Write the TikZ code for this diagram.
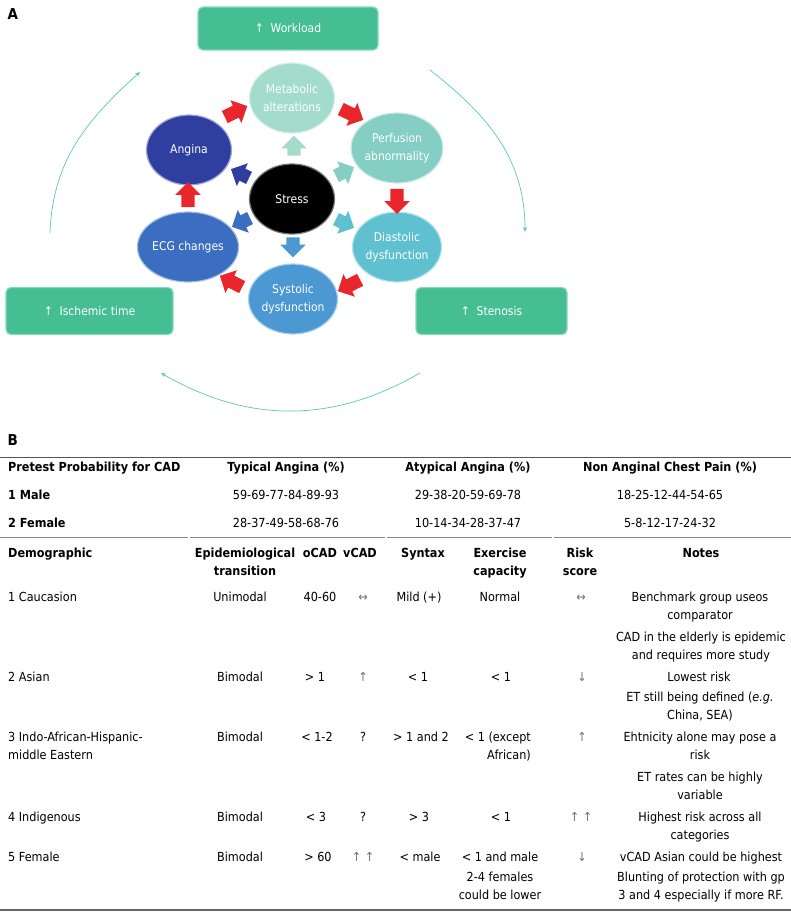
\documentclass[tikz,border=0pt]{standalone}
\usepackage{fontspec}
\setmainfont{DejaVu Sans}[FakeStretch=0.9]
\usetikzlibrary{shapes.geometric,shapes.arrows,arrows.meta,positioning}

\definecolor{boxgreen}{HTML}{45BE93}
\definecolor{boxedge}{HTML}{86D9BC}
\definecolor{arcteal}{HTML}{5CC6B6}
\definecolor{hotred}{HTML}{E8262B}
\definecolor{metab}{HTML}{A3DCCB}
\definecolor{perf}{HTML}{84CEC4}
\definecolor{diast}{HTML}{5FC1D0}
\definecolor{syst}{HTML}{4C98D2}
\definecolor{ecgblue}{HTML}{3B6DC0}
\definecolor{angblue}{HTML}{2F3FA0}
\definecolor{rulegray}{HTML}{555555}

\tikzset{
  cyc/.style={ellipse, fill=#1, draw=white!55!#1, line width=1.2pt,
    minimum width=85, minimum height=70, inner sep=0pt, align=center,
    text=white, font=\fontsize{12}{18}\selectfont},
  stage/.style={rectangle, rounded corners=5pt, fill=boxgreen, draw=boxedge,
    line width=1.2pt, text=white, font=\fontsize{12}{15}\selectfont},
  blk/.style={single arrow, fill=#1, draw=none, inner sep=6.5pt,
    single arrow head extend=6pt, minimum height=25},
  cyclearc/.style={draw=arcteal, line width=0.7pt, -{Stealth[length=5pt,width=4pt]}},
  cell/.style={anchor=base, inner sep=0pt, align=center,
    font=\fontsize{12.5}{18}\selectfont},
  hd/.style={cell, font=\fontsize{12.5}{18}\selectfont\bfseries},
  sym/.style={cell, text=black!55},
  tabrule/.style={draw=rulegray, line width=0.9pt}
}

\begin{document}
\begin{tikzpicture}[x=1pt, y=1pt]
  \useasboundingbox (0,0) rectangle (791,-913);

  % panel A
  \node [font=\fontsize{15}{15}\selectfont\bfseries, anchor=west] (labA) at (4,-14) {A};

  \node [cyc=black, draw=black!55] (str) at (292,-199) {Stress};
  \node [cyc=metab]   (met) at (292,-98)  {Metabolic\\alterations};
  \node [cyc=perf]    (per) at (397,-148) {Perfusion\\abnormality};
  \node [cyc=diast]   (dia) at (397,-247) {Diastolic\\dysfunction};
  \node [cyc=syst]    (sys) at (293,-299) {Systolic\\dysfunction};
  \node [cyc=ecgblue] (ecg) at (188,-247) {ECG changes};
  \node [cyc=angblue] (ang) at (189,-150) {Angina};

  % red arrows round the ring
  \node [blk=hotred, rotate=26]  (r1) at (233,-113) {};
  \node [blk=hotred, rotate=-26] (r2) at (349,-113) {};
  \node [blk=hotred, rotate=-90] (r3) at (397,-198) {};
  \node [blk=hotred, rotate=207] (r4) at (352,-284) {};
  \node [blk=hotred, rotate=153] (r5) at (234,-283) {};
  \node [blk=hotred, rotate=90]  (r6) at (188,-198) {};

  % arrows out of stress
  \node [blk=metab,   rotate=90,  minimum height=19] (s1) at (294,-149) {};
  \node [blk=perf,    rotate=26,  minimum height=19] (s2) at (342,-173) {};
  \node [blk=diast,   rotate=-26, minimum height=19] (s3) at (342,-222) {};
  \node [blk=syst,    rotate=-90, minimum height=19] (s4) at (293,-244) {};
  \node [blk=ecgblue, rotate=206, minimum height=19] (s5) at (244,-221) {};
  \node [blk=angblue, rotate=154, minimum height=19] (s6) at (243,-175) {};

  \node [stage, minimum width=180, minimum height=43] (work)  at (288,-28.5) {↑\ \ Workload};
  \node [stage, minimum width=167, minimum height=47] (isch)  at (89.5,-311) {↑\ \ Ischemic time};
  \node [stage, minimum width=151, minimum height=47] (sten)  at (491.5,-311) {↑\ \ Stenosis};

  \coordinate (la) at (50,-233);
  \coordinate (lb) at (140,-72);
  \coordinate (ra) at (430,-70);
  \coordinate (rb) at (525,-232);
  \coordinate (ba) at (420,-373);
  \coordinate (bb) at (161,-373);
  \draw [cyclearc] (la) to [out=88, in=222] (lb);
  \draw [cyclearc] (ra) to [out=-38, in=90] (rb);
  \draw [cyclearc] (ba) to [out=-150, in=-30] (bb);

  % panel B
  \node [font=\fontsize{15}{15}\selectfont\bfseries, anchor=west] (labB) at (4,-440) {B};

  \draw [tabrule] (0,-457) -- (791,-457);
  \node [hd, anchor=base west] (pp) at (8,-471)   {Pretest Probability for CAD};
  \node [hd] (ta) at (286,-471) {Typical Angina (\%)};
  \node [hd] (aa) at (468,-471) {Atypical Angina (\%)};
  \node [hd] (na) at (670,-471) {Non Anginal Chest Pain (\%)};
  \node [hd, anchor=base west] (male) at (8,-499) {1 Male};
  \node [cell] (mta) at (286,-499) {59-69-77-84-89-93};
  \node [cell] (maa) at (468,-499) {29-38-20-59-69-78};
  \node [cell] (mna) at (670,-499) {18-25-12-44-54-65};
  \node [hd, anchor=base west] (fem) at (8,-527) {2 Female};
  \node [cell] (fta) at (286,-527) {28-37-49-58-68-76};
  \node [cell] (faa) at (468,-527) {10-14-34-28-37-47};
  \node [cell] (fna) at (670,-527) {5-8-12-17-24-32};
  \draw [tabrule, draw=black!45] (0,-537) -- (188,-537);
  \draw [tabrule, draw=black!45] (190,-537) -- (385,-537);
  \draw [tabrule, draw=black!45] (387,-537) -- (552,-537);
  \draw [tabrule, draw=black!45] (554,-537) -- (791,-537);

  % two-line cells sit on the baseline of their last line
  \node [hd, anchor=base west] (hdem) at (8,-557) {Demographic};
  \node [hd] (hepi) at (245,-575) {Epidemiological\\transition};
  \node [hd] (hoc)  at (320,-557) {oCAD};
  \node [hd] (hvc)  at (360,-557) {vCAD};
  \node [hd] (hsyn) at (423,-557) {Syntax};
  \node [hd] (hex)  at (500,-575) {Exercise\\capacity};
  \node [hd] (hrs)  at (580,-575) {Risk\\score};
  \node [hd] (hnot) at (701,-557) {Notes};

  % rows
  \node [cell, anchor=base west] (d1) at (8,-601) {1 Caucasion};
  \node [cell] (e1) at (240,-601) {Unimodal};
  \node [cell] (o1) at (320,-601) {40-60};
  \node [sym] (v1) at (363,-601) {↔};
  \node [cell] (y1) at (419,-601) {Mild (+)};
  \node [cell] (x1) at (500,-601) {Normal};
  \node [sym] (k1) at (581,-601) {↔};
  \node [cell] (n1) at (700,-619) {Benchmark group useos\\comparator};
  \node [cell] (n1b) at (701,-659) {CAD in the elderly is epidemic\\and requires more study};

  \node [cell, anchor=base west] (d2) at (8,-681) {2 Asian};
  \node [cell] (e2) at (240,-681) {Bimodal};
  \node [cell] (o2) at (315,-681) {> 1};
  \node [sym] (v2) at (363,-681) {↑};
  \node [cell] (y2) at (418,-681) {< 1};
  \node [cell] (x2) at (501,-681) {< 1};
  \node [sym] (k2) at (582,-681) {↓};
  \node [cell] (n2) at (699,-681) {Lowest risk};
  \node [cell] (n2b) at (700,-719) {ET still being defined (\textit{e.g.}\\China, SEA)};

  \node [cell, anchor=base west, align=left] (d3) at (8,-759) {3 Indo-African-Hispanic-\\middle Eastern};
  \node [cell] (e3) at (240,-741) {Bimodal};
  \node [cell] (o3) at (317,-741) {< 1-2};
  \node [cell] (v3) at (363,-741) {?};
  \node [cell] (y3) at (421,-741) {> 1 and 2};
  \node [cell, anchor=base east, align=right] (x3) at (531,-759) {< 1 (except\\African)};
  \node [sym] (k3) at (582,-741) {↑};
  \node [cell] (n3) at (700,-759) {Ehtnicity alone may pose a\\risk};
  \node [cell] (n3b) at (700,-799) {ET rates can be highly\\variable};

  \node [cell, anchor=base west] (d4) at (8,-821) {4 Indigenous};
  \node [cell] (e4) at (240,-821) {Bimodal};
  \node [cell] (o4) at (316,-821) {< 3};
  \node [cell] (v4) at (363,-821) {?};
  \node [cell] (y4) at (419,-821) {> 3};
  \node [cell] (x4) at (501,-821) {< 1};
  \node [sym] (k4) at (581,-821) {↑ ↑};
  \node [cell] (n4) at (700,-839) {Highest risk across all\\categories};

  \node [cell, anchor=base west] (d5) at (8,-861) {5 Female};
  \node [cell] (e5) at (240,-861) {Bimodal};
  \node [cell] (o5) at (318,-861) {> 60};
  \node [sym] (v5) at (363,-861) {↑ ↑};
  \node [cell] (y5) at (420,-861) {< male};
  \node [cell] (x5) at (500,-861) {< 1 and male};
  \node [sym] (k5) at (582,-861) {↓};
  \node [cell] (n5) at (701,-861) {vCAD Asian could be highest};
  \node [cell] (x5b) at (500,-899) {2-4 females\\could be lower};
  \node [cell] (n5b) at (701,-899) {Blunting of protection with gp\\3 and 4 especially if more RF.};

  \draw [tabrule, draw=black!60, line width=2.5pt] (0,-910) -- (791,-910);
\end{tikzpicture}
\end{document}
